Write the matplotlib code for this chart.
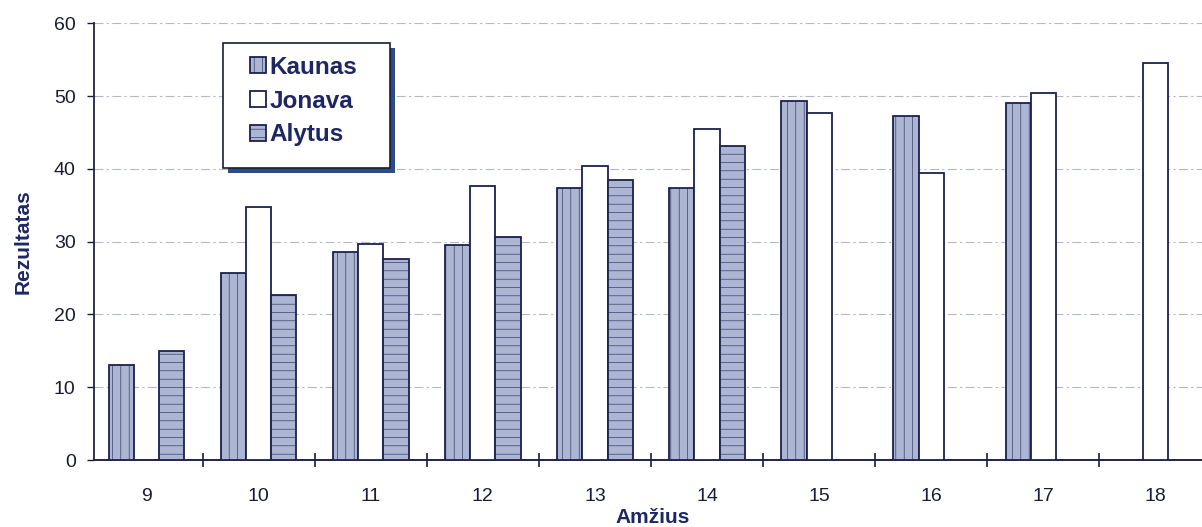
import numpy as np
import matplotlib.pyplot as plt
from matplotlib.patches import Rectangle

# Rezultatai pagal amžių ir miestą (NaN - nėra duomenų)
amzius = ['9', '10', '11', '12', '13', '14', '15', '16', '17', '18']
kaunas = [13, 25.7, 28.6, 29.5, 37.3, 37.3, 49.3, 47.2, 49.0, np.nan]
jonava = [np.nan, 34.7, 29.7, 37.6, 40.4, 45.5, 47.6, 39.4, 50.4, 54.5]
alytus = [15, 22.7, 27.6, 30.6, 38.4, 43.2, np.nan, np.nan, np.nan, np.nan]

plt.rcParams['font.family'] = ['Liberation Sans', 'DejaVu Sans']
plt.rcParams['hatch.linewidth'] = 0.4
plt.rcParams['hatch.color'] = '#9eaac8'

fill = '#acb6d2'
edge = '#1b2150'
navy = '#1d2765'
dark = '#1a1c33'

fig = plt.figure(figsize=(12.02, 5.27), dpi=100)
ax = fig.add_axes([0.078, 0.127, 0.93, 0.829])

x = np.arange(len(amzius))
w = 0.225
ax.bar(x - w, kaunas, w, color=fill, edgecolor=edge, linewidth=1.3,
       hatch='||', label='Kaunas', zorder=3)
ax.bar(x, jonava, w, color='white', edgecolor=edge, linewidth=1.3,
       label='Jonava', zorder=3)
ax.bar(x + w, alytus, w, color=fill, edgecolor=edge, linewidth=1.3,
       hatch='--', label='Alytus', zorder=3)

ax.set_xlim(-0.47, 9.5)
ax.set_ylim(0, 60)
ax.set_yticks(range(0, 61, 10))
ax.yaxis.grid(True, linestyle=(0, (8, 3, 2, 3)), color='#b4b8c6',
              linewidth=0.8, zorder=0)

ax.set_xticks(x)
ax.set_xticklabels(amzius)
ax.set_xticks(np.arange(0.5, 9.5, 1), minor=True)
ax.tick_params(axis='x', which='major', length=0, pad=20, labelsize=14,
               colors=dark)
ax.tick_params(axis='x', which='minor', length=10, direction='inout',
               color=dark, width=1.2)
ax.tick_params(axis='y', length=5, width=1.0, labelsize=14, colors=dark,
               pad=8)

for s in ['top', 'right']:
    ax.spines[s].set_visible(False)
ax.spines['left'].set_color('#222244')
ax.spines['bottom'].set_color('#222244')
ax.spines['left'].set_linewidth(1.3)
ax.spines['bottom'].set_linewidth(1.4)

ax.set_ylabel('Rezultatas', fontsize=15, fontweight='bold', color=navy,
              labelpad=15)
ax.set_xlabel('Amžius', fontsize=15, fontweight='bold', color=navy,
              labelpad=2.5)

# legendos rėmelis su šešėliu
bx, by, bw, bh = 223, 43, 167, 125
W, H = 1202, 527
fig.patches.append(Rectangle(((bx + 5) / W, 1 - (by + bh + 5) / H), bw / W, bh / H,
                             transform=fig.transFigure, facecolor='#2d4a8a',
                             edgecolor='none', zorder=5))
fig.patches.append(Rectangle((bx / W, 1 - (by + bh) / H), bw / W, bh / H,
                             transform=fig.transFigure, facecolor='white',
                             edgecolor='#1a1c33', linewidth=1.2, zorder=6))

leg = fig.legend(loc='center', bbox_to_anchor=(304 / W, 1 - 101 / H),
                 bbox_transform=fig.transFigure,
                 fontsize=17.5, frameon=False,
                 handlelength=0.65, handleheight=0.65, handletextpad=0.15,
                 borderpad=0, labelspacing=0.45)
leg.set_zorder(7)
for t in leg.get_texts():
    t.set_color(navy)
    t.set_fontweight('bold')

fig.savefig('out.png', dpi=100)
